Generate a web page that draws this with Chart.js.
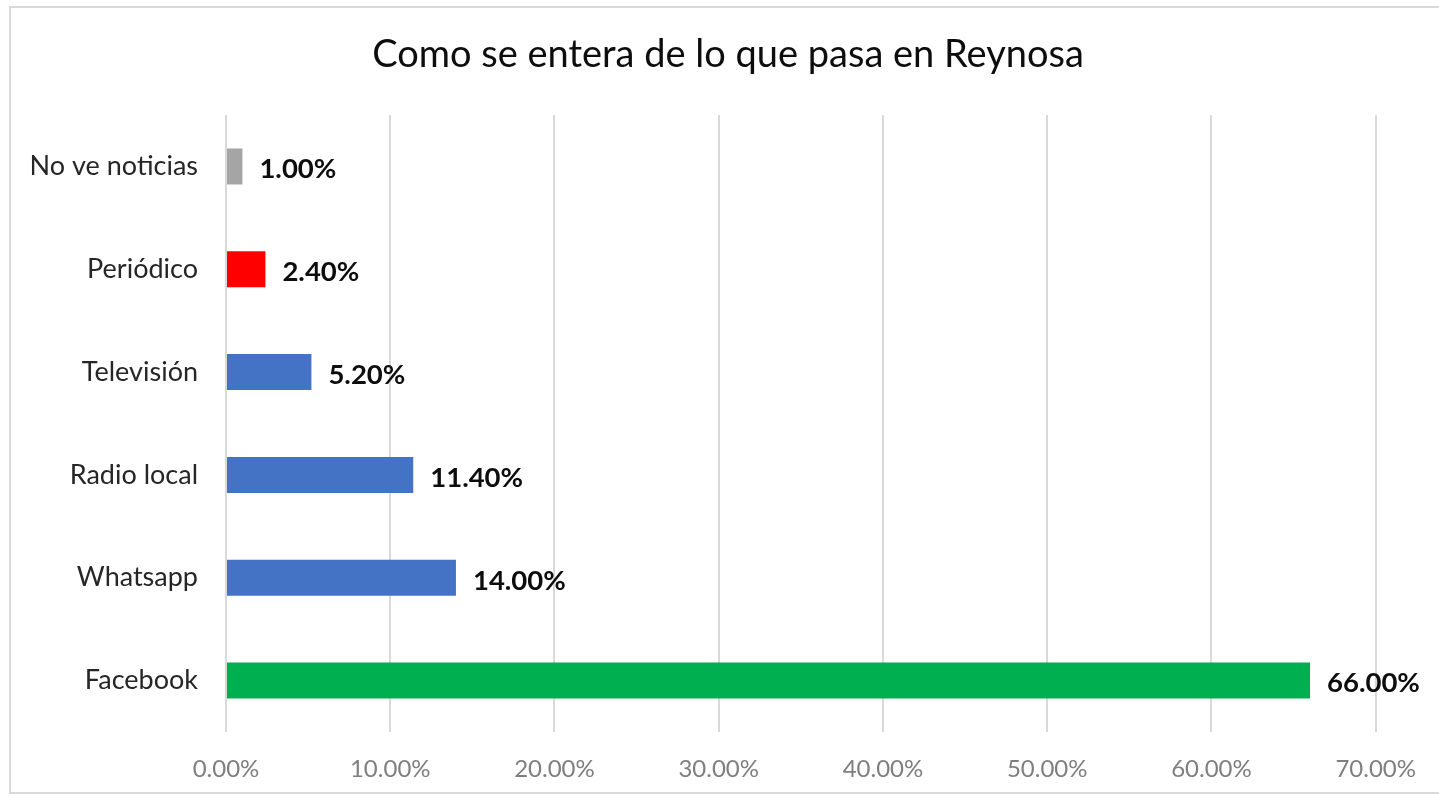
<!DOCTYPE html>
<html>
<head>
<meta charset="utf-8">
<script src="https://cdn.jsdelivr.net/npm/chart.js@4.4.1/dist/chart.umd.min.js"></script>
<style>
  html, body { margin: 0; padding: 0; background: #fff; overflow: hidden; }
  #wrap { position: absolute; left: 0; top: 0; width: 1439px; height: 797px; }
  #frame { position: absolute; left: 9px; top: 6px; width: 1460px; height: 788px; border: 2px solid #d9d9d9; box-sizing: border-box; }
</style>
</head>
<body>
<div id="wrap">
  <div id="frame"></div>
  <canvas id="chart" width="1439" height="797"></canvas>
</div>
<script>
// categories top to bottom
const categories = ['No ve noticias', 'Periódico', 'Televisión', 'Radio local', 'Whatsapp', 'Facebook'];
// percent values
const values = [1.0, 2.4, 5.2, 11.4, 14.0, 66.0];
const barColors = ['#a5a5a5', '#ff0000', '#4472c4', '#4472c4', '#4472c4', '#00b050'];
const chartTitle = 'Como se entera de lo que pasa en Reynosa';
const axisMax = 70;
const axisStep = 10;

const fontFam = "Lato, 'Open Sans', sans-serif";

// title centred on the whole picture, plus bold value next to each bar end
const extraText = {
  id: 'extraText',
  afterDatasetsDraw(chart) {
    const ctx = chart.ctx;
    ctx.save();
    ctx.fillStyle = '#0d0d0d';
    ctx.textBaseline = 'middle';
    ctx.textAlign = 'center';
    ctx.font = '38px ' + fontFam;
    ctx.fillText(chartTitle, 728, 55);

    const meta = chart.getDatasetMeta(0);
    ctx.font = 'bold 27.5px ' + fontFam;
    ctx.textAlign = 'left';
    meta.data.forEach((bar, i) => {
      ctx.fillText(values[i].toFixed(2) + '%', bar.x + 17, bar.y + 3);
    });
    ctx.restore();
  }
};

const chartInstance = new Chart(document.getElementById('chart').getContext('2d'), {
  type: 'bar',
  data: {
    labels: categories,
    datasets: [{
      data: values,
      backgroundColor: barColors,
      borderWidth: 0,
      barPercentage: 0.35,
      categoryPercentage: 1.0
    }]
  },
  options: {
    indexAxis: 'y',
    responsive: false,
    animation: false,
    layout: { padding: { left: 9, right: 61, top: 115, bottom: 0 } },
    plugins: {
      legend: { display: false },
      tooltip: { enabled: false },
      title: { display: false }
    },
    scales: {
      x: {
        min: 0,
        max: axisMax,
        border: { display: false },
        grid: { color: '#d9d9d9', lineWidth: 2, drawTicks: false },
        ticks: {
          stepSize: axisStep,
          padding: 23,
          color: '#7f7f7f',
          font: { family: fontFam, size: 24 },
          callback: v => v.toFixed(2) + '%'
        },
        afterFit(scale) { scale.height = 65; }
      },
      y: {
        border: { display: false },
        grid: { display: false, drawTicks: false },
        ticks: {
          padding: 28,
          color: '#262626',
          font: { family: fontFam, size: 27 }
        },
        afterFit(scale) { scale.width = 217; }
      }
    }
  },
  plugins: [extraText]
});
</script>
</body>
</html>
